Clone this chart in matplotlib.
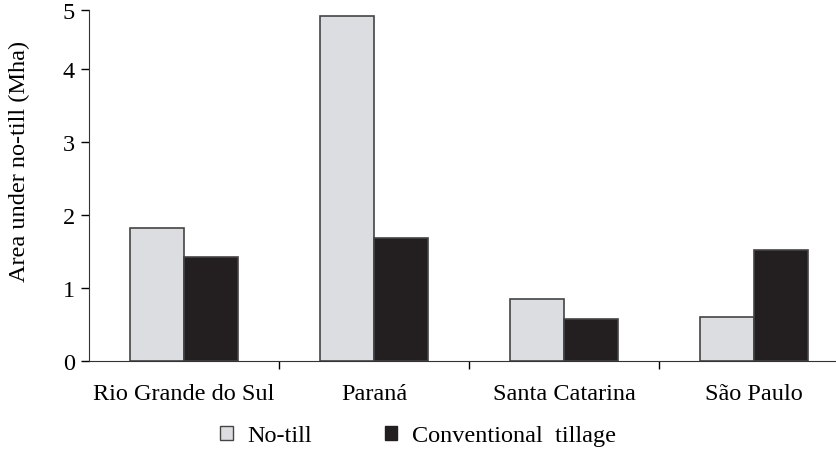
import numpy as np
import matplotlib.pyplot as plt
from matplotlib.patches import Patch

# Area under no-till vs conventional tillage by state (Mha)
states = ['Rio Grande do Sul', 'Paraná', 'Santa Catarina', 'São Paulo']
no_till = [1.82, 4.73, 0.85, 0.60]
conventional = [1.42, 1.68, 0.575, 1.52]

plt.rcParams['font.family'] = ['Liberation Serif', 'DejaVu Serif']

fig = plt.figure(figsize=(8.36, 4.56), dpi=100)
ax = fig.add_axes([89 / 836, 94 / 456, 760 / 836, 351 / 456])

x = np.arange(len(states))
w = 0.284
ax.bar(x - w / 2, no_till, w, color='#dcdde0', edgecolor='#444444', linewidth=1.2, label='No-till')
ax.bar(x + w / 2, conventional, w, color='#231f20', edgecolor='#444444', linewidth=1.2,
       label='Conventional  tillage')

ax.set_xlim(-0.5, len(states) - 0.5)
top = 351 / 73
ax.set_ylim(0, top)
ax.set_yticks([0, 1, 2, 3, 4, top])
ax.set_yticklabels(['0', '1', '2', '3', '4', '5'])
ax.set_xticks(x)
ax.set_xticklabels(states)
ax.set_xticks(x[1:] - 0.5, minor=True)
ax.tick_params(axis='x', which='major', length=0, pad=16, labelsize=17.5)
ax.tick_params(axis='x', which='minor', length=6, width=1, direction='out')
ax.tick_params(axis='y', length=6, width=1, direction='out', labelsize=17.5, pad=4)

for s in ['top', 'right']:
    ax.spines[s].set_visible(False)
ax.spines['left'].set_color('#333333')
ax.spines['bottom'].set_color('#333333')

ax.set_ylabel('Area under no-till (Mha)', fontsize=17.5, labelpad=22)
ax.yaxis.set_label_coords(-0.078, 0.57)

handles = [Patch(facecolor='#dcdde0', edgecolor='#444444', label='No-till'),
           Patch(facecolor='#231f20', edgecolor='#231f20', label='Conventional  tillage')]
fig.legend(handles=handles, loc='center', bbox_to_anchor=(418 / 836, 1 - 437 / 456),
           ncol=2, frameon=False, fontsize=17.5, handlelength=0.5, handleheight=0.5,
           handletextpad=0.6, columnspacing=3.0)

plt.savefig('out.png', dpi=100)
